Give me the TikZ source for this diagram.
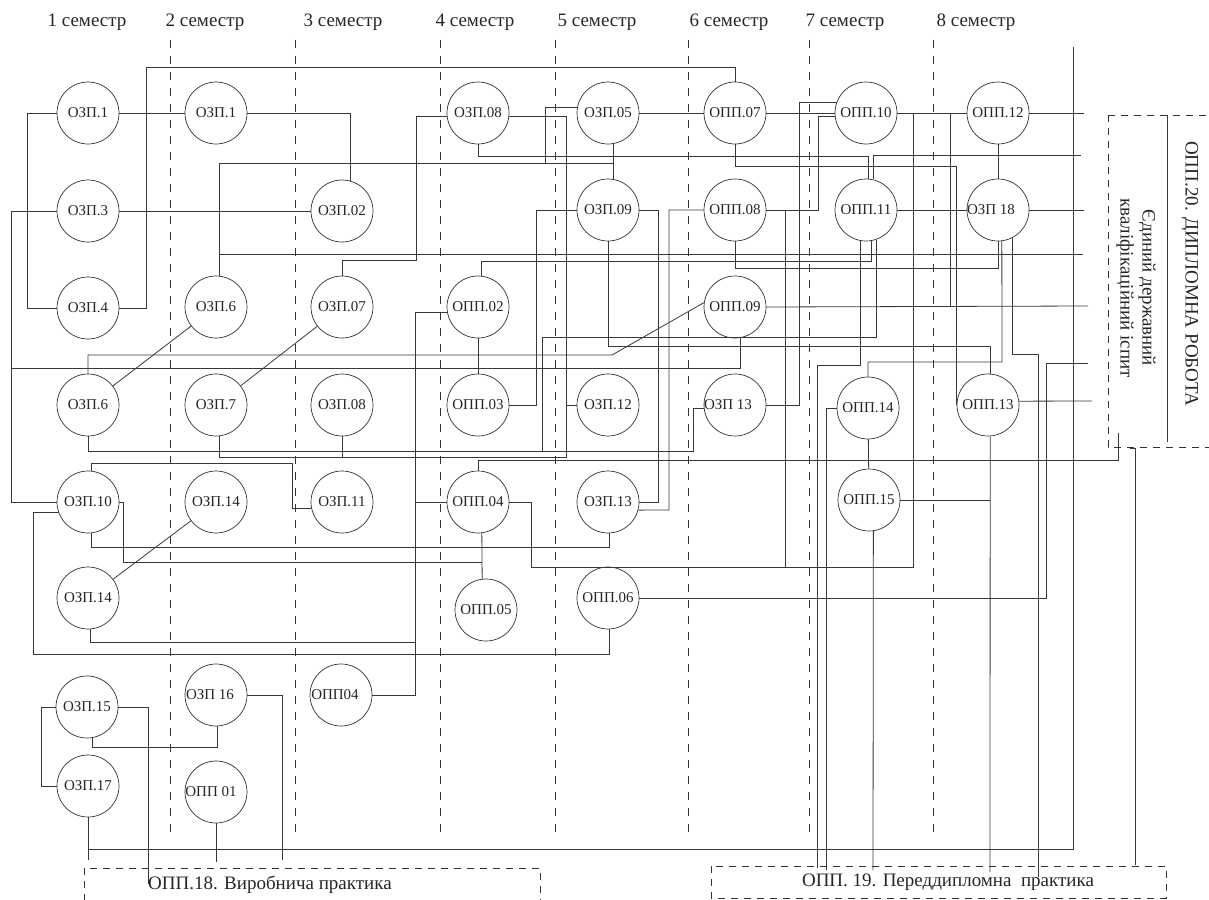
\documentclass[tikz,border=0pt]{standalone}
\usepackage{fontspec}
\setmainfont{Liberation Serif}
\begin{document}
\begin{tikzpicture}[x=1pt,y=-1pt,
  nd/.style={circle,draw=black!80,line width=0.7pt,minimum size=62pt,inner sep=0pt,text=black!85,font=\fontsize{15}{17}\selectfont},
  ln/.style={draw=black!78,line width=0.8pt},
  sem/.style={draw=black!80,line width=0.8pt,dash pattern=on 8pt off 8pt},
  bx/.style={draw=black!80,line width=0.8pt,dash pattern=on 7pt off 6pt},
  hd/.style={text=black!85,font=\fontsize{19}{22}\selectfont}]
\useasboundingbox (0,0) rectangle (1209,899);
% headers
\node[hd] (s1) at (87,22) {1 семестр};
\node[hd] (s2) at (205,22) {2 семестр};
\node[hd] (s3) at (343,22) {3 семестр};
\node[hd] (s4) at (475,22) {4 семестр};
\node[hd] (s5) at (597,22) {5 семестр};
\node[hd] (s6) at (729,22) {6 семестр};
\node[hd] (s7) at (845,22) {7 семестр};
\node[hd] (s8) at (976,22) {8 семестр};
% semester dividers
\foreach \xx in {170,295,440,555,688,809,933}{\draw[sem] (\xx,40) -- (\xx,832);}
% nodes
\node[nd] (a1) at (88,113) {ОЗП.1};
\node[nd] (a3) at (88,211) {ОЗП.3};
\node[nd] (a4) at (88,308) {ОЗП.4};
\node[nd] (a6) at (88,405) {ОЗП.6};
\node[nd] (a10) at (88,502) {ОЗП.10};
\node[nd] (a14) at (88,598) {ОЗП.14};
\node[nd] (a15) at (87,707) {ОЗП.15};
\node[nd] (a17) at (88,786) {ОЗП.17};
\node[nd] (b1) at (216,113) {ОЗП.1};
\node[nd] (b6) at (216,307) {ОЗП.6};
\node[nd] (b7) at (216,405) {ОЗП.7};
\node[nd] (b14) at (216,502) {ОЗП.14};
\node[nd] (b16) at (216,695) {\hspace*{-12pt}ОЗП 16};
\node[nd] (b01) at (216,792) {\hspace*{-10pt}ОПП 01};
\node[nd] (c02) at (342,211) {ОЗП.02};
\node[nd] (c07) at (342,307) {ОЗП.07};
\node[nd] (c08) at (342,405) {ОЗП.08};
\node[nd] (c11) at (342,502) {ОЗП.11};
\node[nd] (c04) at (341,695) {\hspace*{-12pt}ОПП04};
\node[nd] (d08) at (478,113) {ОЗП.08};
\node[nd] (d02) at (478,307) {ОПП.02};
\node[nd] (d03) at (478,405) {ОПП.03};
\node[nd] (d04) at (478,502) {ОПП.04};
\node[nd] (d05) at (486,610) {ОПП.05};
\node[nd] (e05) at (608,113) {ОЗП.05};
\node[nd] (e09) at (608,210) {ОЗП.09};
\node[nd] (e12) at (608,405) {ОЗП.12};
\node[nd] (e13) at (608,502) {ОЗП.13};
\node[nd] (e06) at (608,598) {ОПП.06};
\node[nd] (f07) at (735,113) {ОПП.07};
\node[nd] (f08) at (735,210) {ОПП.08};
\node[nd] (f09) at (735,307) {ОПП.09};
\node[nd] (f13) at (735,405) {\hspace*{-14pt}ОЗП 13};
\node[nd] (g10) at (866,113) {ОПП.10};
\node[nd] (g11) at (866,210) {ОПП.11};
\node[nd] (g14) at (868,408) {ОПП.14};
\node[nd] (g15) at (869,500) {ОПП.15};
\node[nd] (h12) at (998,113) {ОПП.12};
\node[nd] (h18) at (998,210) {\hspace*{-14pt}ОЗП 18};
\node[nd] (h13) at (988,405) {ОПП.13};
% right free ends
\coordinate (r115) at (1084,113);
\coordinate (r155) at (1081,155);
\coordinate (r212) at (1084,210);
\coordinate (r254) at (1083,254);
\coordinate (r306) at (1088,306);
\coordinate (r363) at (1088,363);
\coordinate (r401) at (1092,401);
% connectors
\draw[ln] (a1.west) -- ++(-29,0) |- (a4.west);
\draw[ln] (a1) -- (b1);
\draw[ln] (a3.west) -- ++(-45,0) |- (a10.west);
\draw[ln] (a3) -- (c02);
\draw[ln] (a4.east) -| (146,67) -| (f07.north);
\draw[ln] (b1.east) -| (c02.75);
\draw[ln] (b6.84) |- (545,163) |- (e05.169);
\draw[ln] (545,163) -- (613,163);
\draw[ln] (b6.84) |- (r254);
\draw[ln] (c07.north) |- (416,260) |- (d08.186);
\draw[ln] (d08.354) -| (566,457) -| (b7.276);
\draw[ln] (e12.west) -- ++(-10,0);
\draw[ln] (c08.south) -- ++(0,21);
\draw[ln] (d08.south) -- ++(0,12) -| (g11.86);
\draw[ln] (g11.77) |- (r155);
\draw[ln] (e05) -- (f07);
\draw[ln] (e05.280) -- (e09.80);
\draw[ln] (f07.south) -- ++(0,22) -| (h13.west);
\draw[ln] (f07) -- (g10);
\draw[ln] (g10.160) -| (799,405) -- (f13.east);
\draw[ln] (g10.186) -| (818,210) -- (f08.east);
\draw[ln] (785,210) -- (785,567);
\draw[ln] (g10) -- (h12);
\draw[ln] (d04.east) -- ++(22,0) |- (913,567) -- (913,113);
\draw[ln] (950,113) -- (950,306);
\draw[ln] (h12.east) -- (r115);
\draw[ln] (h12) -- (h18);
\draw[ln] (g11) -- (h18);
\draw[ln] (h18.east) -- (r212);
\draw[ln] (e09.west) -| (536,405) -- (d03.east);
\draw[ln] (e09.east) -| (658,502) -- (e13.east);
\draw[ln] (f08.west) -| (669,510) -- (e13.345);
\draw[ln] (e09.south) -- ++(0,105) -| (h13.86);
\draw[ln] (f08.south) -- ++(0,27) -| (h18.south);
\draw[ln] (d02.84) -- ++(0,-14) -| (g11.279);
\draw[ln] (d02.190) -| (415,695) -- (c04.east);
\draw[ln] (415,502) -- (d04.west);
\draw[ln] (a14.274) |- (415,642);
\draw[ln] (d02) -- (d03);
\draw[ln] (f09.172) -- (612,355) -| (a6.north);
\draw[ln] (f09.279) |- (12,368);
\draw[ln] (f09.east) -- (r306);
\draw[ln] (a6.south) |- (693,451) |- (f13.187);
\draw[ln] (542,451) -- (542,337) -| (g11.289);
\draw[ln] (a10.84) |- (292,463) |- (c11.191);
\draw[ln] (a10.east) -| (123,562) -- (482,562);
\draw[ln] (d04.277) -- (d05.97);
\draw[ln] (a10.276) -- ++(0,14) -| (e13.272);
\draw[ln] (a10.200) -| (33,654) -| (e06.272);
\draw[ln] (a14) -- (b14);
\draw[ln] (a6) -- (b6);
\draw[ln] (b7) -- (c07);
\draw[ln] (d04.north) |- (1118,460) -- (1118,433);
\draw[ln] (e06.east) -| (1046,363) -- (r363);
\draw[ln] (g11.259) |- (817,365) -- (817,868);
\draw[ln] (h18.277) -- (1002,362) -| (g14.north);
\draw[ln] (h18.297) |- (1038,354) -- (1038,877);
\draw[ln] (h13.7) -- (r401);
\draw[ln] (h13.274) -- (990,872);
\draw[ln] (g15.east) -- (990,500);
\draw[ln] (g14) -- (g15);
\draw[ln] (g15.278) -- (873,870);
\draw[ln] (g14.west) -| (826,870);
\draw[ln] (a17.south) -- (88,860);
\draw[ln] (88,849) -| (1073,47);
\draw[ln] (a15.east) -| (148,884);
\draw[ln] (a15.280) -- ++(0,10) -| (b16.272);
\draw[ln] (a15.west) -- ++(-14,0) |- (a17.west);
\draw[ln] (b16.east) -| (282,860);
\draw[ln] (b01.south) -- ++(0,39);
\draw[ln] (1130,448) -| (1135,865);
% boxes
\draw[bx] (1108,115) rectangle (1215,447);
\draw[ln] (1167,115) -- (1167,442);
\node[hd,rotate=-90] (t20) at (1190,274) {ОПП.20. ДИПЛОМНА РОБОТА};
\node[hd,rotate=-90,align=center] (tedk) at (1136,288) {Єдиний державний\\кваліфікаційний іспит};
\draw[bx] (84,868) rectangle (540,906);
\node[hd] (t18) at (270,885) {ОПП.18. Виробнича практика};
\draw[bx] (711,866) rectangle (1166,898);
\node[hd] (t19) at (948,882) {ОПП. 19. Переддипломна\ \ практика};
\end{tikzpicture}
\end{document}
